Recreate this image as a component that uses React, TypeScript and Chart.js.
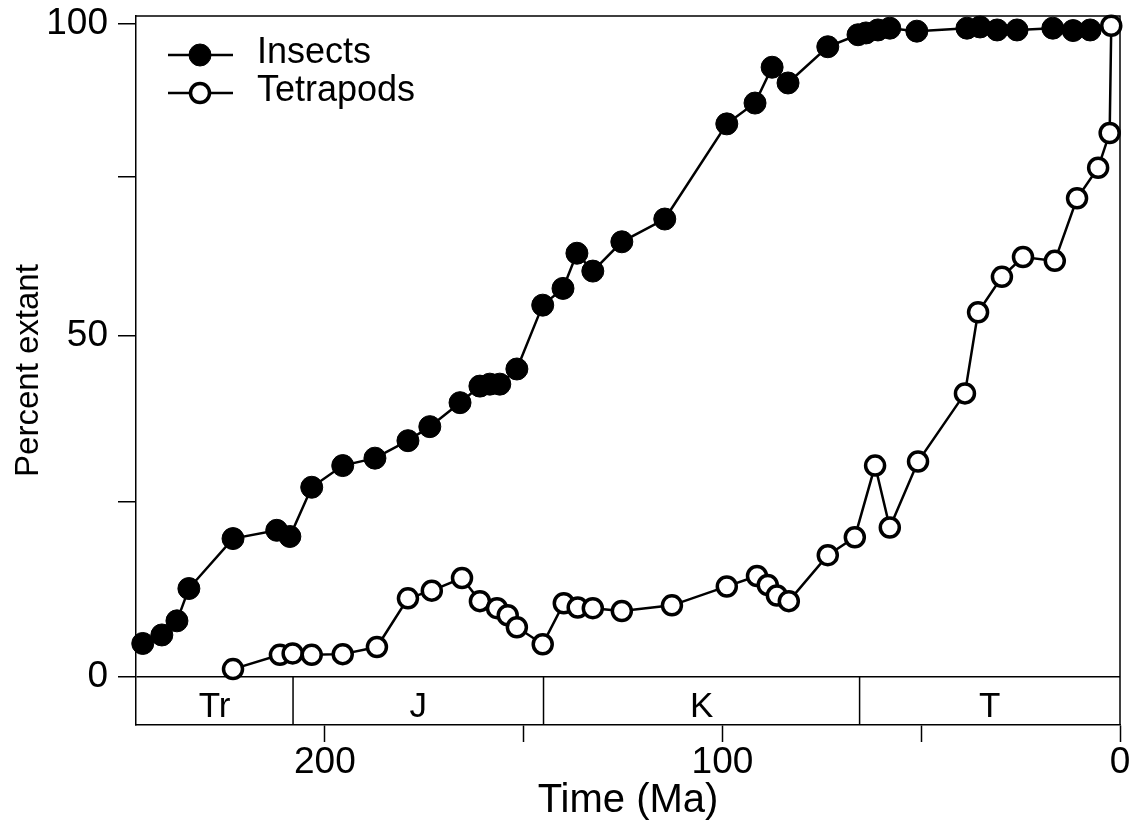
import React, { useEffect, useRef } from 'react';
import { Chart, LinearScale, registerables } from 'chart.js';

// ---- data ----
const insectAges = [245.8, 241.0, 237.2, 234.2, 223.1, 212.1, 208.8, 203.3, 195.5, 187.4, 179.1, 173.6, 166.0, 161.0, 158.5, 156.0, 151.7, 145.2, 140.1, 136.6, 132.6, 125.3, 114.5, 98.9, 91.8, 87.5, 83.5, 73.5, 65.9, 63.9, 60.9, 57.9, 51.1, 38.5, 35.2, 30.9, 25.9, 16.9, 11.8, 7.5];
const insectPct = [4.7, 5.9, 7.9, 12.5, 19.7, 20.9, 20.0, 27.2, 30.4, 31.5, 34.1, 36.2, 39.8, 42.3, 42.6, 42.6, 44.9, 54.7, 57.3, 62.8, 60.0, 64.6, 68.2, 83.5, 86.9, 92.8, 90.2, 96.2, 98.2, 98.5, 99.0, 99.3, 98.8, 99.3, 99.5, 99.0, 99.0, 99.3, 98.9, 99.0];

const tetrapodAges = [223.1, 211.3, 208.1, 203.3, 195.5, 186.9, 179.1, 173.1, 165.5, 161.0, 156.7, 154.0, 151.7, 145.2, 139.9, 136.4, 132.6, 125.3, 112.7, 98.9, 91.3, 88.6, 86.3, 83.3, 73.5, 66.7, 61.6, 57.9, 50.8, 39.0, 35.7, 29.7, 24.4, 16.4, 10.8, 5.5, 2.6, 2.2];
const tetrapodPct = [1.1, 3.1, 3.3, 3.1, 3.2, 4.2, 11.1, 12.2, 14.0, 10.7, 9.7, 8.7, 7.0, 4.6, 10.4, 9.8, 9.7, 9.3, 10.1, 12.8, 14.3, 13.0, 11.5, 10.7, 17.3, 19.9, 30.4, 21.3, 31.0, 41.2, 53.6, 59.1, 62.2, 61.6, 71.5, 76.4, 82.0, 99.7];

const periodNames = ['Tr', 'J', 'K', 'T'];
const periodBounds = [247.5, 208, 145, 65.5, 0];

const xTicks = [200, 150, 100, 50, 0];
const xTickLabels = [200, 100, 0];
const yTicks = [0, 25, 50, 75, 100];
const yTickLabels = [0, 50, 100];

const FONT = "'Liberation Sans', Arial, sans-serif";
const WARP_K = 500;

// Slightly compressed (non-linear) percent axis, as in the reference figure
class WarpScale extends LinearScale {
  static id = 'warp';
  static defaults = LinearScale.defaults;
  gv(v: number) {
    return Math.log(1 + v / WARP_K);
  }
  getPixelForValue(value: any) {
    if (value === null || value === undefined || isNaN(value)) return NaN;
    const a = this.gv(this.min);
    const b = this.gv(this.max);
    return this.getPixelForDecimal((this.gv(value) - a) / (b - a));
  }
  getValueForPixel(pixel: number) {
    const a = this.gv(this.min);
    const b = this.gv(this.max);
    const d = this.getDecimalForPixel(pixel);
    return WARP_K * (Math.exp(a + d * (b - a)) - 1);
  }
}

Chart.register(...registerables, WarpScale as any);

const framePlugin = {
  id: 'frameAndPeriods',
  afterDraw(chart: any) {
    const { ctx, chartArea, scales } = chart;
    const xs = scales.x;
    const ys = scales.y;
    const y0 = ys.getPixelForValue(0);
    ctx.save();
    ctx.strokeStyle = '#000';
    ctx.lineWidth = 1.5;
    ctx.beginPath();
    ctx.moveTo(chartArea.left, chartArea.top);
    ctx.lineTo(chartArea.right, chartArea.top);
    ctx.lineTo(chartArea.right, chartArea.bottom);
    ctx.stroke();
    for (let i = 1; i < periodBounds.length - 1; i++) {
      const px = xs.getPixelForValue(periodBounds[i]);
      ctx.beginPath();
      ctx.moveTo(px, y0);
      ctx.lineTo(px, chartArea.bottom);
      ctx.stroke();
    }
    ctx.fillStyle = '#000';
    ctx.font = `35px ${FONT}`;
    ctx.textAlign = 'center';
    ctx.textBaseline = 'alphabetic';
    for (let i = 0; i < periodNames.length; i++) {
      const a = xs.getPixelForValue(periodBounds[i]);
      const b = xs.getPixelForValue(periodBounds[i + 1]);
      ctx.fillText(periodNames[i], (a + b) / 2, chartArea.bottom - 8);
    }
    ctx.restore();
  },
};

const keyPlugin = {
  id: 'seriesKey',
  afterDraw(chart: any) {
    const { ctx, chartArea } = chart;
    ctx.save();
    chart.data.datasets.forEach((ds: any, i: number) => {
      const y = chartArea.top + 39 + i * 38;
      const x0 = chartArea.left + 32;
      const x1 = chartArea.left + 97;
      const xm = chartArea.left + 64;
      ctx.strokeStyle = '#000';
      ctx.lineWidth = 2.5;
      ctx.beginPath();
      ctx.moveTo(x0, y);
      ctx.lineTo(x1, y);
      ctx.stroke();
      ctx.beginPath();
      ctx.arc(xm, y, ds.pointRadius, 0, Math.PI * 2);
      ctx.fillStyle = ds.pointBackgroundColor;
      ctx.fill();
      ctx.lineWidth = ds.pointBorderWidth;
      ctx.stroke();
      ctx.fillStyle = '#000';
      ctx.font = `36px ${FONT}`;
      ctx.textAlign = 'left';
      ctx.textBaseline = 'alphabetic';
      ctx.fillText(ds.label, chartArea.left + 121, y + 8);
    });
    ctx.restore();
  },
};

export default function App() {
  const canvasRef = useRef<HTMLCanvasElement | null>(null);

  useEffect(() => {
    if (!canvasRef.current) return;
    const chart = new Chart(canvasRef.current, {
      type: 'line',
      data: {
        datasets: [
          {
            label: 'Insects',
            data: insectAges.map((a, i) => ({ x: a, y: insectPct[i] })),
            borderColor: '#000',
            borderWidth: 2.5,
            backgroundColor: '#000',
            pointBackgroundColor: '#000',
            pointBorderColor: '#000',
            pointBorderWidth: 1,
            pointRadius: 11,
            tension: 0,
            clip: false,
            order: 1,
          } as any,
          {
            label: 'Tetrapods',
            data: tetrapodAges.map((a, i) => ({ x: a, y: tetrapodPct[i] })),
            borderColor: '#000',
            borderWidth: 2.5,
            backgroundColor: '#fff',
            pointBackgroundColor: '#fff',
            pointBorderColor: '#000',
            pointBorderWidth: 3.5,
            pointRadius: 9.5,
            tension: 0,
            clip: false,
            order: 0,
          } as any,
        ],
      },
      options: {
        animation: false,
        responsive: false,
        devicePixelRatio: 1,
        layout: { padding: { top: 16, right: 17, left: 0, bottom: 0 } },
        plugins: {
          legend: { display: false },
          tooltip: { enabled: false },
        },
        scales: {
          x: {
            type: 'linear',
            reverse: true,
            min: 0,
            max: 247.5,
            bounds: 'data',
            afterBuildTicks: (s: any) => {
              s.ticks = xTicks.map((v) => ({ value: v }));
            },
            afterFit: (s: any) => {
              s.height = 98;
              s.paddingLeft = 0;
              s.paddingRight = 0;
            },
            grid: {
              drawOnChartArea: false,
              drawTicks: true,
              tickLength: 17,
              tickColor: '#000',
              tickWidth: 1.5,
            },
            border: { display: true, color: '#000', width: 1.5 },
            ticks: {
              autoSkip: false,
              maxRotation: 0,
              color: '#000',
              padding: 2,
              font: { family: FONT, size: 37, lineHeight: 1 },
              callback: (v: any) => (xTickLabels.includes(v) ? String(v) : ''),
            },
            title: {
              display: true,
              text: 'Time (Ma)',
              color: '#000',
              font: { family: FONT, size: 40, lineHeight: 1.1 },
              padding: { top: 0, bottom: 0 },
            },
          },
          y: {
            type: 'warp' as any,
            min: -6.66,
            max: 101.34,
            bounds: 'data',
            afterBuildTicks: (s: any) => {
              s.ticks = yTicks.map((v) => ({ value: v }));
            },
            afterFit: (s: any) => {
              s.width = 136;
              s.paddingTop = 0;
              s.paddingBottom = 0;
            },
            grid: {
              drawOnChartArea: true,
              color: (c: any) => (c.tick && c.tick.value === 0 ? '#000' : 'rgba(0,0,0,0)'),
              tickColor: '#000',
              tickLength: 18,
              lineWidth: 1.5,
            },
            border: { display: true, color: '#000', width: 1.5 },
            ticks: {
              autoSkip: false,
              color: '#000',
              padding: 10,
              font: { family: FONT, size: 37 },
              callback: (v: any) => (yTickLabels.includes(v) ? String(v) : ''),
            },
            title: {
              display: true,
              text: 'Percent extant',
              color: '#000',
              font: { family: FONT, size: 33 },
              padding: { top: 9, bottom: 0 },
            },
          } as any,
        },
      },
      plugins: [framePlugin, keyPlugin],
    } as any);
    return () => chart.destroy();
  }, []);

  return (
    <div style={{ position: 'fixed', left: 0, top: 0, width: 1137, height: 823, background: '#fff' }}>
      <canvas ref={canvasRef} width={1137} height={823} style={{ display: 'block' }} />
    </div>
  );
}
